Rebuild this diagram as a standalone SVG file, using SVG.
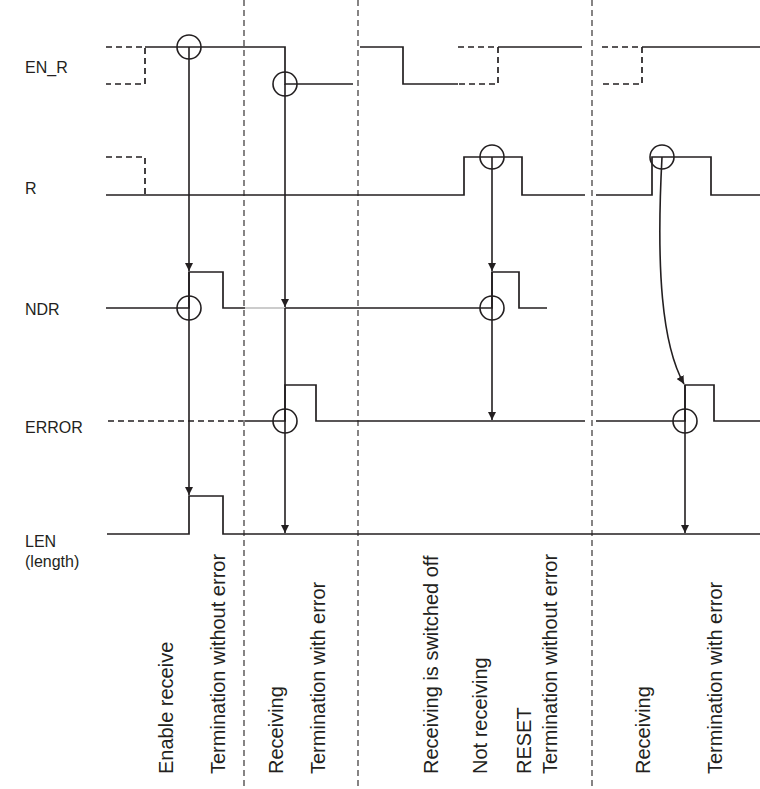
<svg xmlns="http://www.w3.org/2000/svg" width="760" height="789" viewBox="0 0 760 789">
<style>
.sig{fill:none;stroke:#231f20;stroke-width:1.7}
.dsig{fill:none;stroke:#231f20;stroke-width:1.7;stroke-dasharray:6 4}
.div{fill:none;stroke:#231f20;stroke-width:1.1;stroke-dasharray:6 4}
.circ{fill:none;stroke:#231f20;stroke-width:1.6}
.arr{fill:none;stroke:#231f20;stroke-width:1.6;marker-end:url(#ah)}
.lbl{font-family:"Liberation Sans",Arial,sans-serif;font-size:16px;fill:#231f20}
.rot{font-family:"Liberation Sans",Arial,sans-serif;font-size:20px;fill:#231f20}
</style>
<defs>
<marker id="ah" viewBox="0 0 10 10" refX="10" refY="5" markerWidth="8" markerHeight="8" markerUnits="userSpaceOnUse" orient="auto">
<path d="M0,0 L10,5 L0,10 z" fill="#231f20"/>
</marker>
</defs>
<rect width="760" height="789" fill="#ffffff"/>
<g id="dividers">
<line class="div" x1="244" y1="0" x2="244" y2="789"/>
<line class="div" x1="358" y1="0" x2="358" y2="789"/>
<line class="div" x1="592" y1="0" x2="592" y2="789"/>
</g>
<g id="labels">
<text class="lbl" x="25" y="73">EN_R</text>
<text class="lbl" x="25" y="194">R</text>
<text class="lbl" x="25" y="315">NDR</text>
<text class="lbl" x="25" y="433">ERROR</text>
<text class="lbl" x="25" y="547">LEN</text>
<text class="lbl" x="25" y="567">(length)</text>
</g>
<g id="sig-en_r">
<path class="dsig" d="M106,47 H145 V84 H106"/>
<path class="sig" d="M145,47 H285 V84 H353"/>
<path class="sig" d="M360,47 H403 V84 H458"/>
<path class="dsig" d="M458,47 H498 V84 H458"/>
<path class="sig" d="M498,47 H582"/>
<path class="dsig" d="M602,47 H642 V84 H602"/>
<path class="sig" d="M642,47 H760"/>
</g>
<g id="sig-r">
<path class="dsig" d="M106,157 H145 V195"/>
<path class="sig" d="M106,195 H464 V157 H522 V195 H585"/>
<path class="sig" d="M596,195 H652 V157 H711 V195 H760"/>
</g>
<g id="sig-ndr">
<path class="sig" d="M106,308 H189 V272 H223 V308 H245"/>
<line x1="245" y1="308" x2="285" y2="308" stroke="#9a9a9a" stroke-width="1.2"/>
<path class="sig" d="M285,308 H492 V272 H519 V308 H547"/>
</g>
<g id="sig-error">
<path class="dsig" d="M108,421 H243"/>
<path class="sig" d="M245,421 H285 V385 H316 V421 H585"/>
<path class="sig" d="M596,421 H685 V385 H714 V421 H760"/>
</g>
<g id="sig-len">
<path class="sig" d="M107,534 H189 V496 H223 V534 H760"/>
</g>
<g id="markers">
<circle class="circ" cx="189" cy="47" r="12"/>
<circle class="circ" cx="285" cy="84" r="12"/>
<circle class="circ" cx="492" cy="157" r="12"/>
<circle class="circ" cx="662" cy="157" r="12"/>
<circle class="circ" cx="189" cy="308" r="12"/>
<circle class="circ" cx="492" cy="308" r="12"/>
<circle class="circ" cx="285" cy="421" r="12"/>
<circle class="circ" cx="685" cy="421" r="12"/>
</g>
<g id="connectors">
<line class="arr" x1="189" y1="47" x2="189" y2="271"/>
<line class="arr" x1="189" y1="272" x2="189" y2="495"/>
<line class="arr" x1="285" y1="84" x2="285" y2="307"/>
<line class="arr" x1="285" y1="308" x2="285" y2="533"/>
<line class="arr" x1="492" y1="157" x2="492" y2="271"/>
<line class="arr" x1="492" y1="272" x2="492" y2="420"/>
<path class="arr" d="M662,157 C656,270 662,345 684,384"/>
<line class="arr" x1="685" y1="385" x2="685" y2="533"/>
</g>
<g id="phase-texts">
<text class="rot" transform="translate(173,774) rotate(-90)">Enable receive</text>
<text class="rot" transform="translate(225,774) rotate(-90)">Termination without error</text>
<text class="rot" transform="translate(283,774) rotate(-90)">Receiving</text>
<text class="rot" transform="translate(325,774) rotate(-90)">Termination with error</text>
<text class="rot" transform="translate(438,774) rotate(-90)">Receiving is switched off</text>
<text class="rot" transform="translate(487,774) rotate(-90)">Not receiving</text>
<text class="rot" transform="translate(531,774) rotate(-90)">RESET</text>
<text class="rot" transform="translate(557,774) rotate(-90)">Termination without error</text>
<text class="rot" transform="translate(650,774) rotate(-90)">Receiving</text>
<text class="rot" transform="translate(722,774) rotate(-90)">Termination with error</text>
</g>
</svg>
